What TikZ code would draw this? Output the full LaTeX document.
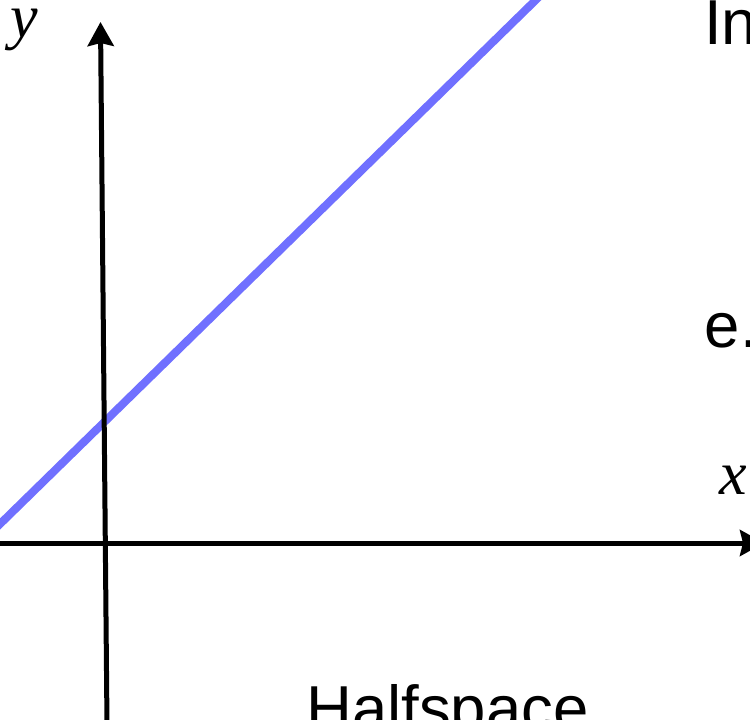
\documentclass[tikz,border=0pt]{standalone}
\usepackage{fontspec}
\setmainfont{Liberation Sans}
\newfontfamily\varfont{Liberation Serif}
\usetikzlibrary{arrows.meta}
\definecolor{lineblue}{RGB}{112,112,255}
\begin{document}
\begin{tikzpicture}[x=1pt,y=-1pt,
  axis/.style={line width=5pt,-{Stealth[length=24pt,width=26pt,inset=3pt]}},
  bound/.style={line width=8pt,draw=lineblue},
  lbl/.style={anchor=base west,inner sep=0pt,font=\fontsize{63.5}{72}\selectfont},
  var/.style={anchor=base west,inner sep=0pt,font=\fontsize{62}{72}\selectfont\varfont\itshape}]
\useasboundingbox (0,0) rectangle (750,720);
\clip (0,0) rectangle (750,720);
% boundary line
\coordinate (bl) at (-10,533.8);
\coordinate (tr) at (546,-10);
\draw[bound] (bl) -- (tr);
% axes
\coordinate (ybot) at (107,725);
\coordinate (ytop) at (100.5,22);
\coordinate (xleft) at (-10,543);
\coordinate (xright) at (764,543);
\draw[axis] (ybot) -- (ytop);
\draw[axis] (xleft) -- (xright);
% labels
\node[var] (ylab) at (10,37) {y};
\node[var] (xlab) at (719,494) {x};
\node[lbl] (t1) at (704,44) {In};
\node[lbl] (t2) at (704.5,347) {e.};
\node[lbl] (t3) at (306,730) {Halfspace};
\end{tikzpicture}
\end{document}
